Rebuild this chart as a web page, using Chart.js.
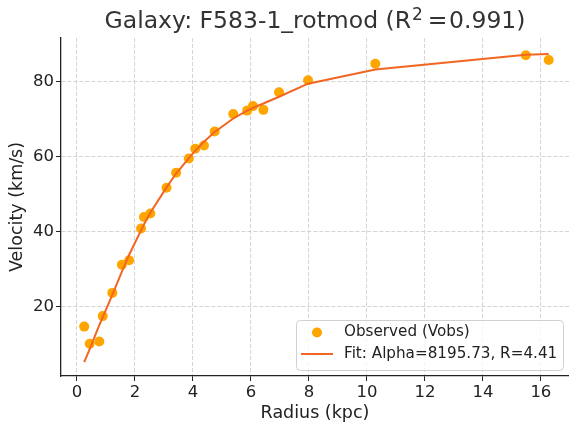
<!DOCTYPE html>
<html>
<head>
<meta charset="utf-8">
<script src="https://cdn.jsdelivr.net/npm/chart.js@4.4.1/dist/chart.umd.min.js"></script>
<style>
  html, body { margin: 0; padding: 0; background: #fff; }
</style>
</head>
<body>
<canvas id="chart" width="569" height="428"></canvas>
<script>
// Rotation curve of F583-1: observed velocities and the fitted model,
// both sampled at the observed radii (values read off the plot).

const radius = [0.25, 0.44, 0.77, 0.89, 1.22, 1.55, 1.80, 2.21, 2.31, 2.53,
                3.09, 3.42, 3.86, 4.08, 4.38, 4.75, 5.39, 5.87, 6.07, 6.43,
                6.97, 7.97, 10.29, 15.48, 16.27];
const vObs   = [14.6, 10.0, 10.6, 17.4, 23.6, 31.1, 32.3, 40.8, 43.9, 44.8,
                51.7, 55.7, 59.5, 62.1, 63.0, 66.7, 71.4, 72.3, 73.5, 72.5,
                77.2, 80.4, 84.8, 87.1, 85.8];
const vFit   = [5.1, 8.6, 15.0, 17.1, 23.1, 29.3, 33.8, 40.3, 41.9, 45.0,
                51.8, 55.5, 59.6, 61.6, 64.0, 66.6, 70.2, 72.3, 73.0, 74.2,
                76.0, 79.5, 83.3, 87.2, 87.4];

const xTicks = [0, 2, 4, 6, 8, 10, 12, 14, 16];
const yTicks = [20, 40, 60, 80];

const FONT = "'DejaVu Sans', sans-serif";
const TEXT = "#222";

const pts = (ys) => radius.map((r, i) => ({ x: r, y: ys[i] }));

// title with a real superscript for R², centred over the plot area
const plotTitle = {
  id: "plotTitle",
  afterDraw(chart) {
    const { ctx, chartArea: a } = chart;
    const big = `23.5px ${FONT}`, small = `17px ${FONT}`;
    const parts = [
      { t: "Galaxy: F583-1_rotmod (R", f: big, dy: 0, gap: 1 },
      { t: "2", f: small, dy: -8, gap: 5 },
      { t: "=", f: big, dy: 0, gap: 1.5 },
      { t: "0.991)", f: big, dy: 0, gap: 0 },
    ];
    ctx.save();
    let w = 0;
    for (const p of parts) { ctx.font = p.f; p.w = ctx.measureText(p.t).width; w += p.w + p.gap; }
    let x = (a.left + a.right) / 2 - w / 2;
    ctx.fillStyle = "#333";
    ctx.textBaseline = "alphabetic";
    for (const p of parts) {
      ctx.font = p.f;
      ctx.fillText(p.t, x, 28 + p.dy);
      x += p.w + p.gap;
    }
    ctx.restore();
  },
};

// matplotlib-style legend box sitting in the lower right of the plot
const boxLegend = {
  id: "boxLegend",
  afterDraw(chart) {
    const { ctx, chartArea: a } = chart;
    const ds = chart.data.datasets;
    const w = 267, h = 50;
    const x = a.right - 6 - w, y = a.bottom - 6 - h;
    ctx.save();
    ctx.beginPath();
    ctx.roundRect(x + 0.5, y + 0.5, w, h, 4);
    ctx.fillStyle = "rgba(255,255,255,0.8)";
    ctx.fill();
    ctx.strokeStyle = "#d0d0d0";
    ctx.lineWidth = 1;
    ctx.stroke();

    ctx.font = `15.2px ${FONT}`;
    ctx.textBaseline = "middle";
    const rows = [y + 12.5, y + 34];
    const obs = ds.find((d) => !d.showLine);
    const fit = ds.find((d) => d.showLine);
    ctx.beginPath();
    ctx.arc(x + 21, rows[0], 5, 0, Math.PI * 2);
    ctx.fillStyle = obs.backgroundColor;
    ctx.fill();
    ctx.fillStyle = TEXT;
    ctx.fillText(obs.label, x + 48, rows[0]);
    ctx.beginPath();
    ctx.moveTo(x + 5, rows[1]);
    ctx.lineTo(x + 37, rows[1]);
    ctx.strokeStyle = fit.borderColor;
    ctx.lineWidth = 2;
    ctx.stroke();
    ctx.fillText(fit.label, x + 48, rows[1]);
    ctx.restore();
  },
};

const axisCommon = {
  type: "linear",
  grid: {
    color: "#cfcfcf",
    lineWidth: 0.9,
    tickColor: TEXT,
    tickLength: 5,
    tickWidth: 1,
    tickBorderDash: [],
  },
  border: { display: true, color: TEXT, width: 1.3, dash: [4, 2] },
};

const noPad = (s) => { s.paddingLeft = 0; s.paddingRight = 0; s.paddingTop = 0; s.paddingBottom = 0; };

new Chart(document.getElementById("chart"), {
  type: "scatter",
  data: {
    datasets: [
      {
        label: "Fit: Alpha=8195.73, R=4.41",
        data: pts(vFit),
        showLine: true,
        borderColor: "#f26522",
        borderWidth: 2,
        pointRadius: 0,
        order: 0,
      },
      {
        label: "Observed (Vobs)",
        data: pts(vObs),
        backgroundColor: "#ffa500",
        borderWidth: 0,
        pointRadius: 5,
        order: 1,
      },
    ],
  },
  options: {
    responsive: false,
    animation: false,
    layout: { autoPadding: false, padding: { left: 0, right: 0, top: 38, bottom: 0 } },
    plugins: {
      legend: { display: false },
      tooltip: { enabled: false },
      title: { display: false },
    },
    scales: {
      x: {
        ...axisCommon,
        min: -0.55,
        max: 16.97,
        afterBuildTicks: (s) => { s.ticks = xTicks.map((v) => ({ value: v })); },
        afterFit: (s) => { s.height = 52; noPad(s); },
        ticks: { color: TEXT, font: { family: FONT, size: 16.5 }, padding: 2, maxRotation: 0, autoSkip: false },
        title: { display: true, text: "Radius (kpc)", color: TEXT, font: { family: FONT, size: 17.5 }, padding: { top: 0, bottom: 4 } },
      },
      y: {
        ...axisCommon,
        min: 1.4,
        max: 91.7,
        afterBuildTicks: (s) => { s.ticks = yTicks.map((v) => ({ value: v })); },
        afterFit: (s) => { s.width = 61; noPad(s); },
        ticks: { color: TEXT, font: { family: FONT, size: 16.5 }, padding: 2, autoSkip: false },
        title: { display: true, text: "Velocity (km/s)", color: TEXT, font: { family: FONT, size: 17.5 }, padding: { top: 7, bottom: 0 } },
      },
    },
  },
  plugins: [plotTitle, boxLegend],
});
</script>
</body>
</html>
